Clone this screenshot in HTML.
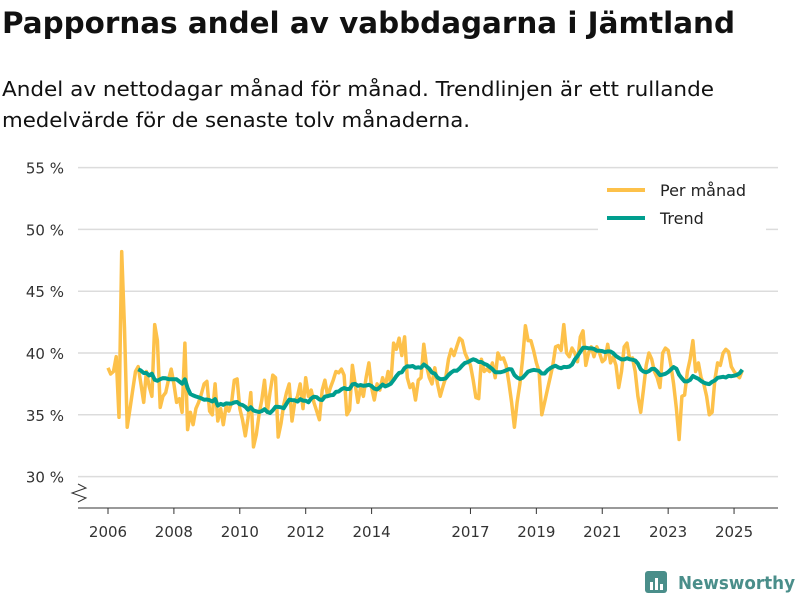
<!DOCTYPE html>
<html><head><meta charset="utf-8"><style>
body{margin:0;background:#fff;font-family:"Liberation Sans","DejaVu Sans",sans-serif;}
#wrap{position:relative;width:800px;height:600px;overflow:hidden;}
</style></head><body>
<div id="wrap">
<svg width="800" height="600" xmlns="http://www.w3.org/2000/svg">
<text x="2" y="33" font-size="29" font-weight="bold" fill="#111" font-family="DejaVu Sans, sans-serif" textLength="733" lengthAdjust="spacingAndGlyphs">Pappornas andel av vabbdagarna i Jämtland</text>
<text x="2" y="96" font-size="20" fill="#111" font-family="DejaVu Sans, sans-serif" textLength="712" lengthAdjust="spacingAndGlyphs">Andel av nettodagar månad för månad. Trendlinjen är ett rullande</text>
<text x="2" y="127" font-size="20" fill="#111" font-family="DejaVu Sans, sans-serif" textLength="468" lengthAdjust="spacingAndGlyphs">medelvärde för de senaste tolv månaderna.</text>
<g id="grid"></g><g id="axes"></g><g id="series"></g>
<g>
<rect x="598" y="174" width="168" height="58" fill="#fff"/>
<line x1="607" y1="190" x2="645" y2="190" stroke="#fdc14a" stroke-width="4"/>
<text x="660" y="196" font-size="16" fill="#222" font-family="DejaVu Sans, sans-serif">Per månad</text>
<line x1="607" y1="218" x2="645" y2="218" stroke="#009e8e" stroke-width="4"/>
<text x="660" y="224" font-size="16" fill="#222" font-family="DejaVu Sans, sans-serif">Trend</text>
</g>
<g>
<rect x="645" y="571" width="22" height="22" rx="3" fill="#4a8e8a"/>
<rect x="650" y="582" width="3" height="8" fill="#fff"/><rect x="655" y="578" width="3" height="12" fill="#fff"/><rect x="660" y="584" width="3" height="6" fill="#fff"/>
<text x="678" y="589" font-size="18" font-weight="bold" fill="#4a8e8a" font-family="DejaVu Sans, sans-serif" textLength="117" lengthAdjust="spacingAndGlyphs">Newsworthy</text>
</g>
</svg>
</div>
<script>
const yTicks=[30,35,40,45,50,55];
const yearTicks=[2006,2008,2010,2012,2014,2017,2019,2021,2023,2025];
const startYear=2006;
const monthly=[
38.8,38.3,38.5,39.7,34.8,48.2,42,34,35.5,37,38.5,38.9,
37.5,36,38.5,37.3,36.5,42.3,41,35.6,36.5,36.8,37.8,38.7,
37.5,36,36.3,35.2,40.8,33.8,35.2,34.2,35.5,36,36.7,37.5,
37.7,35.3,35.0,37.5,34.5,35.5,34.2,35.7,35.3,36,37.8,37.9,
35.5,34.6,33.3,34.7,36.8,32.4,33.4,35,36.2,37.8,35.2,36.8,
38.2,38,33.2,34.3,35.8,36.8,37.5,34.5,36,36.5,37.5,35.5,
38,36.5,37,36,35.3,34.6,37,37.8,36.5,37.2,37.8,38.5,
38.4,38.7,38.2,35,35.4,39,37.5,36,37.2,36.5,38,39.2,
37.2,36.2,37.5,37,38,37.3,38.5,37.5,40.8,40.3,41.2,39.8,
41.3,38,37.2,37.5,36.2,37.8,38,40.7,39,38,37.5,38.8,
37.5,36.5,37.3,38,39.5,40.3,39.8,40.5,41.2,41,40,39.5,
39,37.8,36.4,36.3,39.5,38.5,38.7,38.5,39.2,38,40,39.5,
39.6,39,37.6,36,34,36,37.5,39.5,42.2,41,41,40.2,
39.2,38.5,35,36,37,38,39,40.5,40.6,40.2,42.3,40,
39.7,40.4,40,39.3,41.3,41.8,39,40,40.5,39.7,40.5,40,
39.3,39.5,40.7,39.2,39.7,39,37.2,38.5,40.5,40.8,39.5,39.6,
38.5,36.5,35.2,37,39,40,39.5,38.5,38,37.2,40,40.4,
40.2,39,37.5,35.5,33,36.5,36.6,38.5,39.5,41,38.5,39.2,
38,37.5,36.5,35,35.2,37.8,39.2,39,40,40.3,40.1,38.9,
38.5,38.2,38.0,38.6];
const NS="http://www.w3.org/2000/svg";
function X(t){return 108+(t-2006)*32.95;}
function Y(v){return 353-(v-40)*12.36;}
function mk(tag,attrs,parent){const e=document.createElementNS(NS,tag);for(const k in attrs)e.setAttribute(k,attrs[k]);parent.appendChild(e);return e;}
const grid=document.getElementById('grid'),axes=document.getElementById('axes'),series=document.getElementById('series');
yTicks.forEach(v=>{
 const l=mk('line',{x1:78,x2:778,y1:Y(v),y2:Y(v),stroke:'#dcdcdc','stroke-width':1.5},grid);
 
 
 const t=mk('text',{x:64,y:Y(v)+6,'text-anchor':'end','font-size':15,fill:'#333','font-family':'DejaVu Sans, sans-serif'},axes);
 t.textContent=v+' %';
 
 
});
mk('line',{x1:78,x2:778,y1:508,y2:508,stroke:'#333','stroke-width':1},axes);
mk('path',{d:'M78,484 L86,488 L72,493 L86,498 L78,502',fill:'none',stroke:'#333','stroke-width':1},axes);
yearTicks.forEach(yr=>{
 const x=X(yr);
 mk('line',{x1:x,x2:x,y1:508,y2:514,stroke:'#333'},axes);
 const t=mk('text',{x:x,y:537,'text-anchor':'middle','font-size':15,fill:'#333','font-family':'DejaVu Sans, sans-serif'},axes);
 t.textContent=yr;
 
 
});
let d='';
monthly.forEach((v,i)=>{d+=(i?'L':'M')+X(startYear+i/12).toFixed(1)+','+Y(v).toFixed(1);});
const p1=mk('path',{d:d,fill:'none',stroke:'#fdc14a','stroke-width':3.5,'stroke-linejoin':'round'},series);


let d2='';
for(let i=11;i<monthly.length;i++){let s=0;for(let j=i-11;j<=i;j++)s+=monthly[j];const m=s/12;
 d2+=(i>11?'L':'M')+X(startYear+i/12).toFixed(1)+','+Y(m).toFixed(1);}
const p2=mk('path',{d:d2,fill:'none',stroke:'#009e8e','stroke-width':4,'stroke-linejoin':'round'},series);


</script>
</body></html>
